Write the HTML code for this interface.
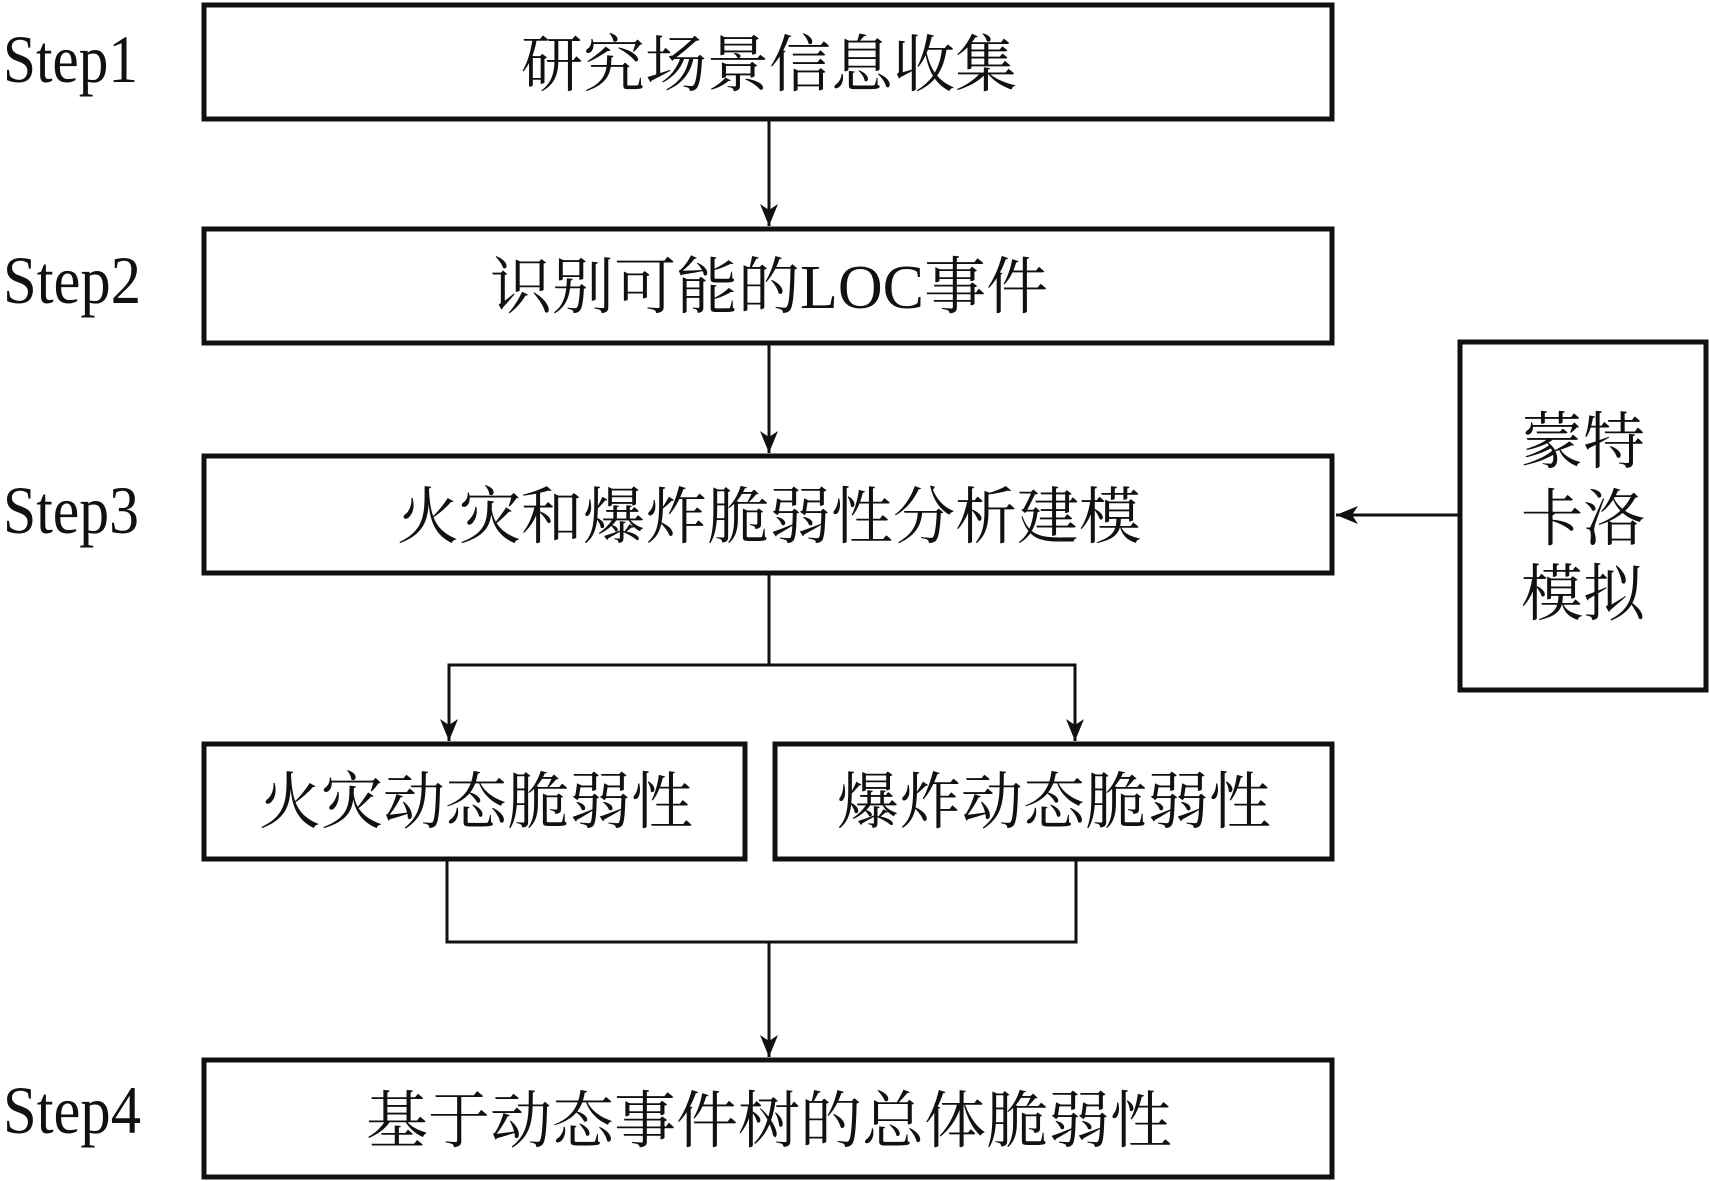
<!DOCTYPE html>
<html><head><meta charset="utf-8"><style>
html,body{margin:0;padding:0;background:#fff;}
svg{display:block;}
.s{font-family:"Liberation Serif",serif;font-size:68px;}
.c{font-family:"Liberation Serif","Noto Serif CJK SC",serif;font-size:62px;}
</style></head><body>
<svg width="1710" height="1181" viewBox="0 0 1710 1181" xmlns="http://www.w3.org/2000/svg">
<defs>
<marker id="b" markerWidth="24" markerHeight="24" refX="22" refY="9" orient="auto" markerUnits="userSpaceOnUse"><path d="M0,0 L22,9 L0,18 L6,9 z" fill="#111"/></marker></defs>
<g fill="none" stroke="#111" stroke-width="5">
<rect x="204" y="5" width="1128" height="114"/>
<rect x="204" y="229" width="1128" height="114"/>
<rect x="204" y="456" width="1128" height="117"/>
<rect x="1460" y="342" width="246" height="348"/>
<rect x="204" y="744" width="541" height="115"/>
<rect x="775" y="744" width="557" height="115"/>
<rect x="204" y="1060" width="1128" height="117"/>
</g>
<g fill="none" stroke="#111" stroke-width="3">
<line x1="769" y1="120" x2="769" y2="226" marker-end="url(#b)"/>
<line x1="769" y1="344" x2="769" y2="453" marker-end="url(#b)"/>
<line x1="769" y1="574" x2="769" y2="665"/>
<polyline points="449,741 449,665 1075,665 1075,741" marker-end="url(#b)"/>
<line x1="449" y1="665" x2="449" y2="741" marker-end="url(#b)"/>
<line x1="1458" y1="515" x2="1336" y2="515" marker-end="url(#b)"/>
<polyline points="447,859 447,942 1076,942 1076,859"/>
<line x1="769" y1="942" x2="769" y2="1057" marker-end="url(#b)"/>
</g>
<g fill="#111">
<text class="s" x="3" y="82" textLength="135" lengthAdjust="spacingAndGlyphs">Step1</text>
<text class="s" x="3" y="303" textLength="138" lengthAdjust="spacingAndGlyphs">Step2</text>
<text class="s" x="3" y="533" textLength="136" lengthAdjust="spacingAndGlyphs">Step3</text>
<text class="s" x="3" y="1133" textLength="138" lengthAdjust="spacingAndGlyphs">Step4</text>
<text class="c" x="769" y="86" text-anchor="middle">研究场景信息收集</text>
<text class="c" x="769" y="308" text-anchor="middle">识别可能的LOC事件</text>
<text class="c" x="769" y="538" text-anchor="middle">火灾和爆炸脆弱性分析建模</text>
<text class="c" x="476" y="823" text-anchor="middle">火灾动态脆弱性</text>
<text class="c" x="1054" y="823" text-anchor="middle">爆炸动态脆弱性</text>
<text class="c" x="769" y="1142" text-anchor="middle">基于动态事件树的总体脆弱性</text>
<text class="c" x="1583" y="463" text-anchor="middle">蒙特</text>
<text class="c" x="1583" y="540" text-anchor="middle">卡洛</text>
<text class="c" x="1583" y="615" text-anchor="middle">模拟</text>
</g>
</svg>
</body></html>
